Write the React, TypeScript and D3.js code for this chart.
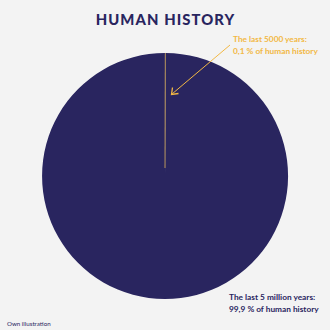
import React from "react";
import * as d3 from "d3";

const categories = ["The last 5000 years", "The last 5 million years"];
const shares = [0.1, 99.9];
const title = "HUMAN HISTORY";
const recentLines = ["The last 5000 years:", "0,1 % of human history"];
const longLines = ["The last 5 million years:", "99,9 % of human history"];
const source = "Own illustration";

const NAVY = "#29255f";
const ORANGE = "#f2b844";

export default function App() {
  const W = 330, H = 330;
  const cx = 165, cy = 176, r = 123;
  const pie = d3.pie<number>().sort(null).value((d) => d);
  const arcs = pie(shares);
  const arc = d3.arc<d3.PieArcDatum<number>>().innerRadius(0).outerRadius(r);
  const font = "Lato, 'Open Sans', sans-serif";
  return (
    <svg width={W} height={H} style={{ position: "absolute", left: 0, top: 0, background: "#f3f3f3" }}>
      <rect width={W} height={H} fill="#f3f3f3" />
      <text x={165.5} y={25} textAnchor="middle" fontFamily={font} fontWeight={900} fontSize={14.8} letterSpacing={1.1} fill={NAVY}>{title}</text>
      <g transform={`translate(${cx},${cy})`}>
        {arcs.map((a, i) => (
          <path key={categories[i]} d={arc(a) || ""} fill={i === 0 ? ORANGE : NAVY} />
        ))}
        {(() => {
          const a = arcs[0];
          const mid = (a.startAngle + a.endAngle) / 2;
          return (
            <line x1={0} y1={-8} x2={Math.sin(mid) * r} y2={-Math.cos(mid) * r} stroke="#9c7f5c" strokeWidth={1.2} />
          );
        })()}
      </g>
      <line x1={230} y1={45} x2={172} y2={94} stroke={ORANGE} strokeWidth={1} />
      <path d="M172.5,87.5 L171.5,94.5 L178.5,93.5" fill="none" stroke={ORANGE} strokeWidth={1.3} />
      <g fontFamily={font} fontWeight={700} fontSize={8.3} fill={ORANGE}>
        {recentLines.map((t, i) => (
          <text key={t} x={233} y={42 + i * 11.5}>{t}</text>
        ))}
      </g>
      <g fontFamily={font} fontWeight={700} fontSize={8.3} fill={NAVY}>
        {longLines.map((t, i) => (
          <text key={t} x={229} y={300 + i * 11.5}>{t}</text>
        ))}
      </g>
      <text x={7} y={326} fontFamily={font} fontSize={6.2} fill={NAVY}>{source}</text>
    </svg>
  );
}
